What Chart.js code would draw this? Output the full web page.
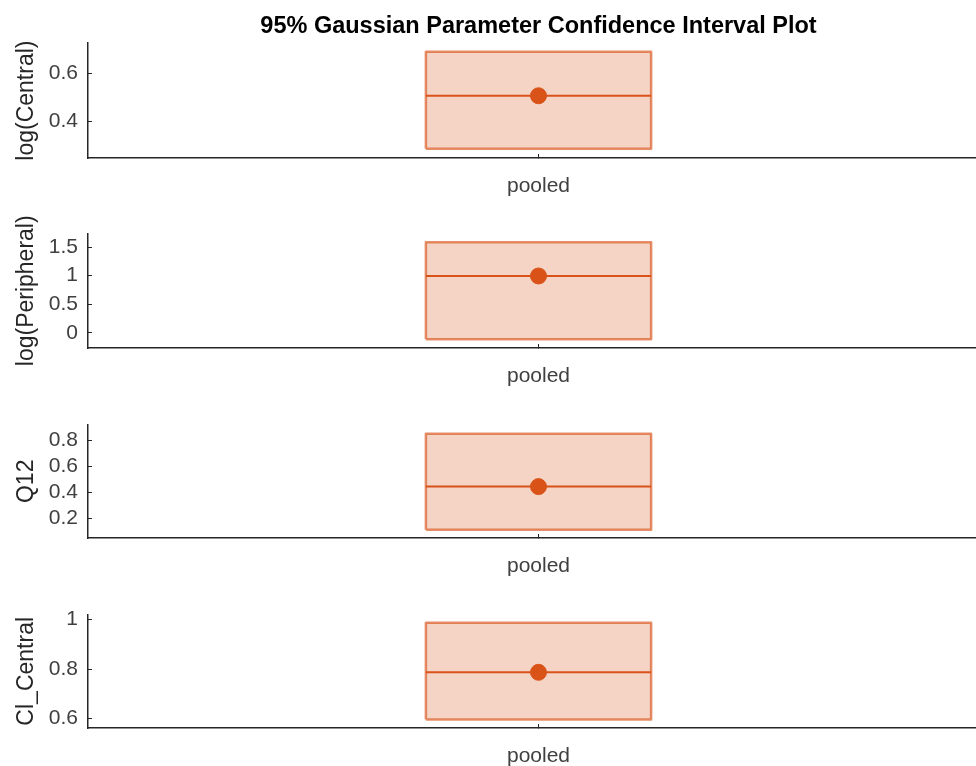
<!DOCTYPE html>
<html>
<head>
<meta charset="utf-8">
<script src="https://cdn.jsdelivr.net/npm/chart.js@4/dist/chart.umd.min.js"></script>
<style>
  html, body { margin: 0; padding: 0; background: #fff; overflow: hidden; }
  #wrap { position: relative; width: 976px; height: 766px; overflow: hidden; }
  .panel { position: absolute; left: 0; width: 998px; }
</style>
</head>
<body>
<div id="wrap">
  <div class="panel" style="top:0px;height:198px"><canvas id="p0"></canvas></div>
  <div class="panel" style="top:207px;height:181px"><canvas id="p1"></canvas></div>
  <div class="panel" style="top:398px;height:180px"><canvas id="p2"></canvas></div>
  <div class="panel" style="top:588px;height:180px"><canvas id="p3"></canvas></div>
</div>
<script>
// data
const paramNames = ["log(Central)", "log(Peripheral)", "Q12", "Cl_Central"];
const groupLabels = ["pooled"];
const estimates = [0.506, 0.995, 0.446, 0.787];
const lowerCI = [0.286, -0.112, 0.113, 0.596];
const upperCI = [0.689, 1.582, 0.854, 0.987];
const yTicks = [
    [0.4, 0.6],
    [0, 0.5, 1, 1.5],
    [0.2, 0.4, 0.6, 0.8],
    [0.6, 0.8, 1],
];
const yLimits = [
    [0.248, 0.724],
    [-0.263, 1.735],
    [0.05, 0.924],
    [0.562, 1.02],
];

const orange = "#D95319";
const axisColor = "#262626";
const boxHalf = 0.125;   // half width of the interval box, in x units
const xMin = 0.5;
const xMax = 1.5;        // axes run a bit past the right edge of the window

function makePanel(i) {
    const g = 1; // position of "pooled"
    const lo = lowerCI[i], hi = upperCI[i], est = estimates[i];

    new Chart(document.getElementById("p" + i), {
        type: "scatter",
        data: {
            datasets: [
                {
                    // confidence box
                    data: [
                        { x: g - boxHalf, y: lo },
                        { x: g - boxHalf, y: hi },
                        { x: g + boxHalf, y: hi },
                        { x: g + boxHalf, y: lo },
                        { x: g - boxHalf, y: lo },
                    ],
                    showLine: true,
                    fill: "shape",
                    backgroundColor: "rgba(217,83,25,0.25)",
                    borderColor: "rgba(217,83,25,0.65)",
                    borderWidth: 2.5,
                    borderJoinStyle: "round",
                    pointRadius: 0,
                    order: 3,
                },
                {
                    // estimate line
                    data: [
                        { x: g - boxHalf, y: est },
                        { x: g + boxHalf, y: est },
                    ],
                    showLine: true,
                    borderColor: orange,
                    borderWidth: 2,
                    pointRadius: 0,
                    order: 2,
                },
                {
                    // estimate point
                    data: [{ x: g, y: est }],
                    pointRadius: 8,
                    pointBackgroundColor: orange,
                    pointBorderColor: orange,
                    order: 1,
                },
            ],
        },
        options: {
            responsive: true,
            maintainAspectRatio: false,
            animation: false,
            layout: {
                padding: { top: i === 0 ? 0 : 20, left: 0, right: 0, bottom: 0 },
            },
            plugins: {
                legend: { display: false },
                tooltip: { enabled: false },
                title: {
                    display: i === 0,
                    fullSize: false,
                    text: "95% Gaussian Parameter Confidence Interval Plot",
                    color: "#000",
                    font: { family: "Liberation Sans", size: 23.5, weight: "bold", lineHeight: 1.2 },
                    padding: { top: 12, bottom: 3 },
                },
            },
            scales: {
                x: {
                    type: "linear",
                    min: xMin,
                    max: xMax,
                    offset: false,
                    grid: {
                        display: true,
                        drawOnChartArea: false,
                        drawTicks: true,
                        tickLength: -4,
                        tickColor: axisColor,
                        tickWidth: 1,
                    },
                    border: { display: true, color: axisColor, width: 1.5 },
                    afterBuildTicks: (scale) => {
                        scale.ticks = groupLabels.map((_, k) => ({ value: k + 1 }));
                    },
                    ticks: {
                        color: "#404040",
                        font: { family: "Liberation Sans", size: 21 },
                        padding: 20,
                        maxRotation: 0,
                        callback: (v) => groupLabels[Math.round(v) - 1] || "",
                    },
                    afterFit: (scale) => { scale.height = 40; },
                },
                y: {
                    min: yLimits[i][0],
                    max: yLimits[i][1],
                    grid: {
                        display: true,
                        drawOnChartArea: false,
                        drawTicks: true,
                        tickLength: -4,
                        tickColor: axisColor,
                        tickWidth: 1,
                    },
                    border: { display: true, color: axisColor, width: 1.5 },
                    afterBuildTicks: (scale) => {
                        scale.ticks = yTicks[i].map((v) => ({ value: v }));
                    },
                    ticks: {
                        color: "#404040",
                        font: { family: "Liberation Sans", size: 21 },
                        padding: 14,
                        callback: (v) => String(v),
                    },
                    title: {
                        display: true,
                        text: paramNames[i],
                        color: "#262626",
                        font: { family: "Liberation Sans", size: 23, lineHeight: 1.2 },
                        padding: { top: 13, bottom: 0 },
                    },
                    afterFit: (scale) => { scale.width = 88; },
                },
            },
        },
    });
}

for (let i = 0; i < paramNames.length; i++) {
    makePanel(i);
}
</script>
</body>
</html>
